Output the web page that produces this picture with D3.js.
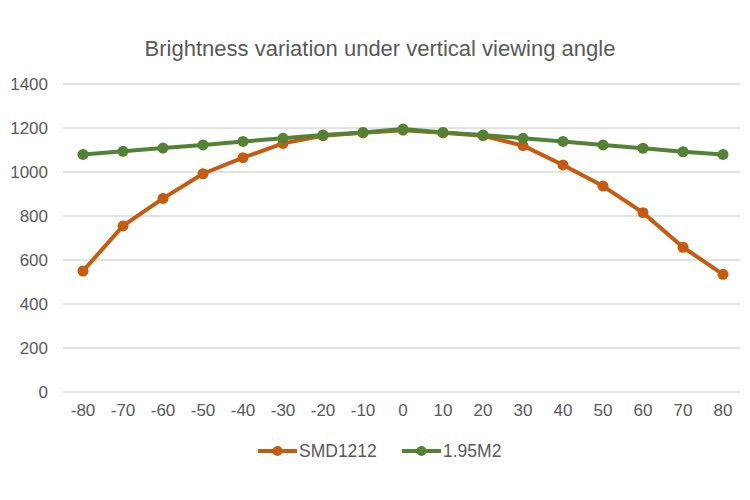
<!DOCTYPE html>
<html>
<head>
<meta charset="utf-8">
<script src="https://cdn.jsdelivr.net/npm/d3@7"></script>
<style>
  body { margin: 0; background: #fff; }
  text { font-family: "Liberation Sans", Arial, sans-serif; fill: #595959; }
</style>
</head>
<body>
<div id="chart"></div>
<script>
const angles = [-80, -70, -60, -50, -40, -30, -20, -10, 0, 10, 20, 30, 40, 50, 60, 70, 80];
const smd1212 = [550, 755, 880, 992, 1065, 1130, 1165, 1178, 1190, 1178, 1165, 1120, 1032, 936, 815, 658, 535];
const m195 = [1080, 1094, 1109, 1123, 1139, 1153, 1168, 1180, 1195, 1180, 1168, 1153, 1139, 1123, 1108, 1092, 1080];
const yTicks = [0, 200, 400, 600, 800, 1000, 1200, 1400];

const series = [
  { name: "SMD1212", values: smd1212, color: "#C55A11" },
  { name: "1.95M2", values: m195, color: "#548235" }
];

const width = 750, height = 500;
const plotLeft = 63, plotRight = 743, plotTop = 84, plotBottom = 392;

const svg = d3.select("#chart").append("svg")
  .attr("width", width)
  .attr("height", height);

// title
svg.append("text")
  .attr("x", 380)
  .attr("y", 56)
  .attr("text-anchor", "middle")
  .style("font-size", "22px")
  .text("Brightness variation under vertical viewing angle");

const x = d3.scaleBand()
  .domain(angles)
  .range([plotLeft, plotRight]);

const y = d3.scaleLinear()
  .domain([0, 1400])
  .range([plotBottom, plotTop]);

// gridlines
svg.append("g")
  .selectAll("line")
  .data(yTicks)
  .join("line")
  .attr("x1", plotLeft)
  .attr("x2", plotRight - 3)
  .attr("y1", d => y(d))
  .attr("y2", d => y(d))
  .attr("stroke", "#d9d9d9")
  .attr("stroke-width", 1.3);

// y axis labels
const yAxis = d3.axisLeft(y).tickValues(yTicks).tickFormat(d3.format("d")).tickSize(0).tickPadding(0);
svg.append("g")
  .attr("transform", `translate(${plotLeft - 15},0)`)
  .call(yAxis)
  .call(g => g.select(".domain").remove())
  .selectAll("text")
  .style("font-size", "17px")
  .style("font-family", "'Liberation Sans', Arial, sans-serif")
  .attr("fill", "#595959");

// x axis labels
const xAxis = d3.axisBottom(x).tickSize(0).tickPadding(0);
svg.append("g")
  .attr("transform", `translate(0,${plotBottom + 12})`)
  .call(xAxis)
  .call(g => g.select(".domain").remove())
  .selectAll("text")
  .style("font-size", "17px")
  .style("font-family", "'Liberation Sans', Arial, sans-serif")
  .attr("fill", "#595959");

const cx = a => x(a) + x.bandwidth() / 2;

const line = d3.line()
  .x((d, i) => cx(angles[i]))
  .y(d => y(d));

series.forEach(s => {
  const g = svg.append("g");
  g.append("path")
    .datum(s.values)
    .attr("d", line)
    .attr("fill", "none")
    .attr("stroke", s.color)
    .attr("stroke-width", 4)
    .attr("stroke-linejoin", "round");
  g.selectAll("circle")
    .data(s.values)
    .join("circle")
    .attr("cx", (d, i) => cx(angles[i]))
    .attr("cy", d => y(d))
    .attr("r", 5.5)
    .attr("fill", s.color);
});

// legend
const legendPos = [258, 402];
const legend = svg.append("g").attr("transform", "translate(0,451)");
series.forEach((s, i) => {
  const lg = legend.append("g").attr("transform", `translate(${legendPos[i]},0)`);
  lg.append("line")
    .attr("x1", 0).attr("x2", 39)
    .attr("y1", 0).attr("y2", 0)
    .attr("stroke", s.color)
    .attr("stroke-width", 4);
  lg.append("circle")
    .attr("cx", 19.5).attr("cy", 0).attr("r", 5)
    .attr("fill", s.color);
  lg.append("text")
    .attr("x", 41)
    .attr("y", 0)
    .attr("dy", "0.36em")
    .style("font-size", "17.5px")
    .text(s.name);
});
</script>
</body>
</html>
